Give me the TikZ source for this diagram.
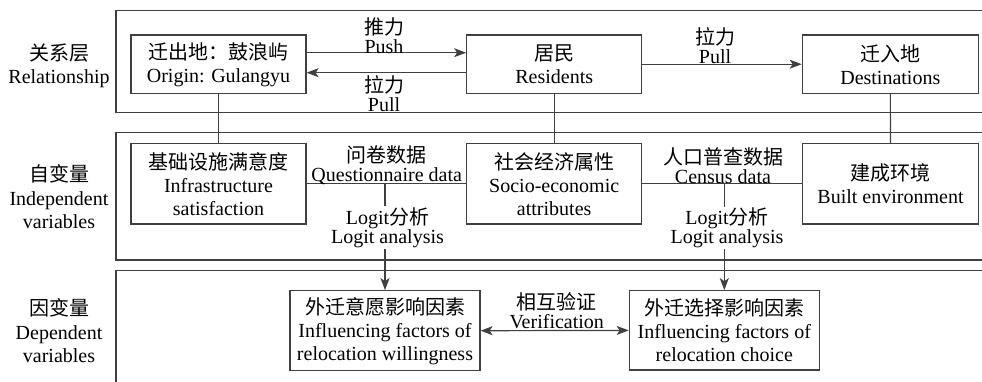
\documentclass[tikz,border=0pt]{standalone}
\usepackage{fontspec}
\setmainfont{Liberation Serif}
\newfontfamily\cjk{Noto Sans CJK SC}
\usetikzlibrary{arrows.meta}
\definecolor{lc}{HTML}{404040}
\begin{document}
\begin{tikzpicture}[x=1pt,y=-1pt,
  ln/.style={draw=lc, line width=1.2pt},
  box/.style={ln, inner sep=0pt, align=center, fill=white, font=\fontsize{20}{23}\selectfont},
  lab/.style={inner sep=0pt, align=center, font=\fontsize{20}{19}\selectfont},
  side/.style={inner sep=0pt, align=center, font=\fontsize{20}{23.5}\selectfont},
  arr/.style={ln, -{Stealth[length=12pt,width=9pt,inset=3pt]}},
  darr/.style={ln, {Stealth[length=12pt,width=9pt,inset=3pt]}-{Stealth[length=12pt,width=9pt,inset=3pt]}}]
\useasboundingbox (0,0) rectangle (982,381);
\clip (0,0) rectangle (982,381);
% panels
\draw[ln] (116,10.7) rectangle (995,112.7);
\draw[ln] (116,132.3) rectangle (995,260);
\draw[ln] (116,270.7) rectangle (995,400);
% side labels
\node[side] (s1) at (59,66) {{\cjk 关系层}\\Relationship};
\node[side] (s2) at (59,197) {{\cjk 自变量}\\Independent\\variables};
\node[side] (s3) at (59,331) {{\cjk 因变量}\\Dependent\\variables};
% boxes
\node[box, minimum width=175pt, minimum height=58.3pt] (origin) at (218.5,64.2) {{\cjk 迁出地：鼓浪屿}\\Origin: Gulangyu};
\node[box, minimum width=175pt, minimum height=58.3pt] (res) at (554.2,64.2) {{\cjk 居民}\\Residents};
\node[box, minimum width=176pt, minimum height=58.3pt] (dest) at (890.3,64.2) {{\cjk 迁入地}\\Destinations};
\node[box, minimum width=175pt, minimum height=80.7pt] (infra) at (218.5,183.7) {{\cjk 基础设施满意度}\\Infrastructure\\satisfaction};
\node[box, minimum width=175pt, minimum height=80.7pt] (socio) at (554.2,183.7) {{\cjk 社会经济属性}\\Socio-economic\\attributes};
\node[box, minimum width=175.6pt, minimum height=80.7pt] (built) at (890.5,183.7) {{\cjk 建成环境}\\Built environment};
\node[box, minimum width=190pt, minimum height=80pt] (will) at (385,330.7) {{\cjk 外迁意愿影响因素}\\Influencing factors of\\relocation willingness};
\node[box, minimum width=190pt, minimum height=79.3pt] (choice) at (724.3,330.4) {{\cjk 外迁选择影响因素}\\Influencing factors of\\relocation choice};
% vertical ties
\draw[ln] (origin) -- (infra);
\draw[ln] (res) -- (socio);
\draw[ln] (dest) -- (built);
% top arrows
\draw[arr] ([yshift=11.5pt]origin.east) -- ([yshift=11.5pt]res.west);
\draw[arr] ([yshift=-8.5pt]res.west) -- ([yshift=-8.5pt]origin.east);
\draw[arr] (res.east) -- (dest.west);
\node[lab] (push) at (384,36) {{\cjk 推力}\\Push};
\node[lab] (pull1) at (384,94) {{\cjk 拉力}\\Pull};
\node[lab] (pull2) at (715,46) {{\cjk 拉力}\\Pull};
% data lines
\draw[ln] (infra.east) -- (socio.west);
\draw[ln] (socio.east) -- (built.west);
\draw[arr] (will.north |- infra.east) -- (will.north);
\draw[arr] (choice.north |- socio.east) -- (choice.north);
\node[lab] (qd) at (386.7,165) {{\cjk 问卷数据}\\Questionnaire data};
\node[lab] (cd) at (723,165.5) {{\cjk 人口普查数据}\\Census data};
\node[lab, fill=white, inner sep=1pt] (lg1) at (387.5,227.5) {Logit{\cjk 分析}\\Logit analysis};
\node[lab, fill=white, inner sep=1pt] (lg2) at (727,228) {Logit{\cjk 分析}\\Logit analysis};
% verification
\draw[darr] (will.east) -- (choice.west);
\node[lab] (ver) at (556.7,311) {{\cjk 相互验证}\\Verification};
\end{tikzpicture}
\end{document}
